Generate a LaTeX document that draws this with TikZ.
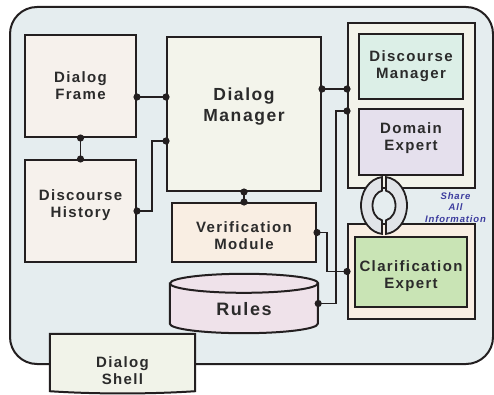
\documentclass[tikz,border=0pt]{standalone}
\usepackage{fontspec}
\setmainfont{Liberation Sans}[LetterSpace=9]
\usetikzlibrary{calc}
\definecolor{lc}{HTML}{231F20}
\definecolor{tc}{HTML}{2B2B2B}
\definecolor{bgc}{HTML}{E5EDEF}
\definecolor{dfc}{HTML}{F6F1EC}
\definecolor{dmc}{HTML}{F3F4EB}
\definecolor{vmc}{HTML}{F9EEE3}
\definecolor{rulc}{HTML}{EFE2EA}
\definecolor{shc}{HTML}{F1F3E9}
\definecolor{tgc}{HTML}{F3F3EA}
\definecolor{dsmc}{HTML}{DCEFE7}
\definecolor{dec}{HTML}{E5E0ED}
\definecolor{lgc}{HTML}{F9EEE3}
\definecolor{clc}{HTML}{C9E4B5}
\definecolor{ringc}{HTML}{E1E4E8}
\definecolor{bluec}{HTML}{3C3C9E}
\begin{document}
\begin{tikzpicture}[x=1pt,y=1pt,
  box/.style={draw=lc, line width=2pt, inner sep=0pt},
  edge/.style={draw=lc, line width=2pt},
  lbl/.style={font=\bfseries\fontsize{15}{17}\selectfont, text=tc, align=center, inner sep=0pt},
  big/.style={font=\bfseries\fontsize{17.5}{21}\selectfont, text=tc, align=center, inner sep=0pt},
  wire/.style={draw=lc, line width=1.6pt},
  jd/.style={fill=lc}]
\useasboundingbox (0,0) rectangle (494,394);
% outer shell
\draw[edge, fill=bgc, rounded corners=27pt] (10,30) rectangle (493,387);
% dialog shell
\node[minimum width=145pt, minimum height=57pt, inner sep=0pt] (shell) at (122.5,31.5) {};
\draw[edge, fill=shc] (shell.north west) -- (shell.north east) -- (shell.south east)
  .. controls ([xshift=-45pt,yshift=-3pt]shell.south east) and ([xshift=45pt,yshift=-3pt]shell.south west) .. (shell.south west) -- cycle;
\node[lbl] (shellt) at ([yshift=-8pt]shell.center) {Dialog\\Shell};
% left boxes
\node[box, fill=dfc, minimum width=111pt, minimum height=102pt] (df) at (80.5,308) {};
\node[lbl] (dft) at (df.center) {Dialog\\Frame};
\node[box, fill=dfc, minimum width=111pt, minimum height=102pt] (dh) at (80.5,183) {};
\node[lbl] (dht) at ([yshift=6pt]dh.center) {Discourse\\History};
% dialog manager
\node[box, fill=dmc, minimum width=154pt, minimum height=154pt] (dm) at (244,280) {};
\node[big] (dmt) at ([yshift=7pt]dm.center) {Dialog\\Manager};
% verification
\node[box, fill=vmc, minimum width=144pt, minimum height=59pt] (vm) at (244,161.5) {};
\node[lbl] (vmt) at ([yshift=-3.5pt]vm.center) {Verification\\Module};
% rules cylinder
\node[minimum width=148pt, minimum height=59pt, inner sep=0pt] (rules) at (244,90.5) {};
\draw[edge, fill=rulc] ([yshift=-9.5pt]rules.north west) -- ([yshift=9.5pt]rules.south west)
  arc[start angle=180, end angle=360, x radius=74pt, y radius=9.5pt]
  -- ([yshift=-9.5pt]rules.north east)
  arc[start angle=0, end angle=180, x radius=74pt, y radius=9.5pt] -- cycle;
\draw[edge] ([yshift=-9.5pt]rules.north west) arc[start angle=180, end angle=360, x radius=74pt, y radius=9.5pt];
\node[font=\bfseries\fontsize{18}{21}\selectfont, text=tc, inner sep=0pt] (rulest) at ([yshift=-5.5pt]rules.center) {Rules};
% right groups
\node[box, fill=tgc, minimum width=127pt, minimum height=165pt] (tg) at (411.5,288.5) {};
\node[box, fill=dsmc, minimum width=104pt, minimum height=65pt] (dsm) at (411,327.5) {};
\node[lbl] (dsmt) at (dsm.center) {Discourse\\Manager};
\node[box, fill=dec, minimum width=104pt, minimum height=66pt] (de) at (411,252) {};
\node[lbl] (det) at ([yshift=4pt]de.center) {Domain\\Expert};
\node[box, fill=lgc, minimum width=127pt, minimum height=95pt] (lg) at (411.5,122.5) {};
\node[box, fill=clc, minimum width=112pt, minimum height=70pt] (cl) at (411,122) {};
\node[lbl] (clt) at ([yshift=-4.5pt]cl.center) {Clarification\\Expert};
% ring
\coordinate (ring) at (384,188.5);
\begin{scope}[shift={(ring)}]
\draw[edge, line width=1.8pt, fill=ringc] (-2,28.39) arc[start angle=95, end angle=265, x radius=23pt, y radius=28.5pt]
  -- (-2,-14.77) arc[start angle=260, end angle=100, x radius=11.5pt, y radius=15pt] -- cycle;
\draw[edge, line width=1.8pt, fill=ringc] (2,28.39) arc[start angle=85, end angle=-85, x radius=23pt, y radius=28.5pt]
  -- (2,-14.77) arc[start angle=-80, end angle=80, x radius=11.5pt, y radius=15pt] -- cycle;
\end{scope}
\node[font=\bfseries\itshape\fontsize{9.5}{11.5}\selectfont, text=bluec, align=center, inner sep=0pt] (share) at (455.5,186.5) {Share\\All\\Information};
% connectors
\coordinate (c1) at ([yshift=-11pt]df.east);
\coordinate (c1b) at (c1 -| dm.west);
\draw[wire] (c1) -- (c1b);
\draw[wire] (df.south) -- (dh.north);
\coordinate (c3) at ([yshift=-27pt]dm.west);
\draw[wire] (dh.east) -- ++(15,0) |- (c3);
\draw[wire] (dm.south) -- (vm.north);
\coordinate (c5) at ([yshift=25pt]dm.east);
\coordinate (c5b) at (c5 -| tg.west);
\draw[wire] (c5) -- (c5b);
\coordinate (c6) at ([yshift=-5.5pt]tg.west);
\draw[wire] (c6) -- ++(-11,0) |- (rules.east);
\draw[wire] (vm.east) -- ++(10,0) |- (lg.west);
% joint dots
\foreach \p in {c1,c1b,df.south,dh.north,dh.east,c3,dm.south,vm.north,c5,c5b,c6,rules.east,vm.east,lg.west}
  \fill[jd] (\p) circle (3.6pt);
\end{tikzpicture}
\end{document}
